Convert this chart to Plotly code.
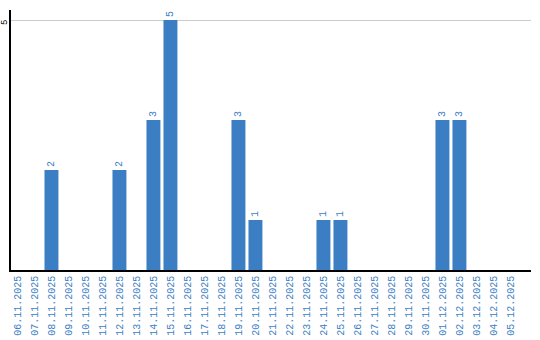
import plotly.graph_objects as go

dates = ["06.11.2025","07.11.2025","08.11.2025","09.11.2025","10.11.2025","11.11.2025",
         "12.11.2025","13.11.2025","14.11.2025","15.11.2025","16.11.2025","17.11.2025",
         "18.11.2025","19.11.2025","20.11.2025","21.11.2025","22.11.2025","23.11.2025",
         "24.11.2025","25.11.2025","26.11.2025","27.11.2025","28.11.2025","29.11.2025",
         "30.11.2025","01.12.2025","02.12.2025","03.12.2025","04.12.2025","05.12.2025"]
counts = [0,0,2,0,0,0,2,0,3,5,0,0,0,3,1,0,0,0,1,1,0,0,0,0,0,3,3,0,0,0]
labels = [str(c) if c else "" for c in counts]
y_ticks = [5]

blue = "#3b7ec3"
fig = go.Figure(go.Bar(
    x=dates, y=counts, text=labels, textposition="outside", textangle=-90,
    textfont=dict(family="Liberation Mono", size=10, color=blue),
    marker=dict(color=blue, line=dict(width=0)), width=0.82, cliponaxis=False,
))
for t in y_ticks:
    fig.add_annotation(x=0, xref="paper", xanchor="center", xshift=-6, y=t, yref="y",
                       yanchor="middle", yshift=-3, text=str(t), textangle=-90, showarrow=False,
                       borderpad=0, font=dict(family="Liberation Mono", size=9, color="black"))
fig.update_layout(
    width=540, height=340, margin=dict(l=11, r=9, t=10, b=70),
    paper_bgcolor="white", plot_bgcolor="white", showlegend=False,
    xaxis=dict(type="category", range=[-0.38, 30.21], tickangle=-90, automargin=False,
               tickfont=dict(family="Liberation Mono", size=10, color=blue),
               showline=True, linecolor="black", linewidth=1.5, ticks="",
               showgrid=False, ticklen=0),
    yaxis=dict(range=[0, 5.2], tickvals=y_ticks, showticklabels=False, automargin=False,
               showline=True, linecolor="black", linewidth=1.5,
               showgrid=True, gridcolor="#cccccc", gridwidth=1, zeroline=False,
               ticklen=0),
)
fig.write_html("out.html")
